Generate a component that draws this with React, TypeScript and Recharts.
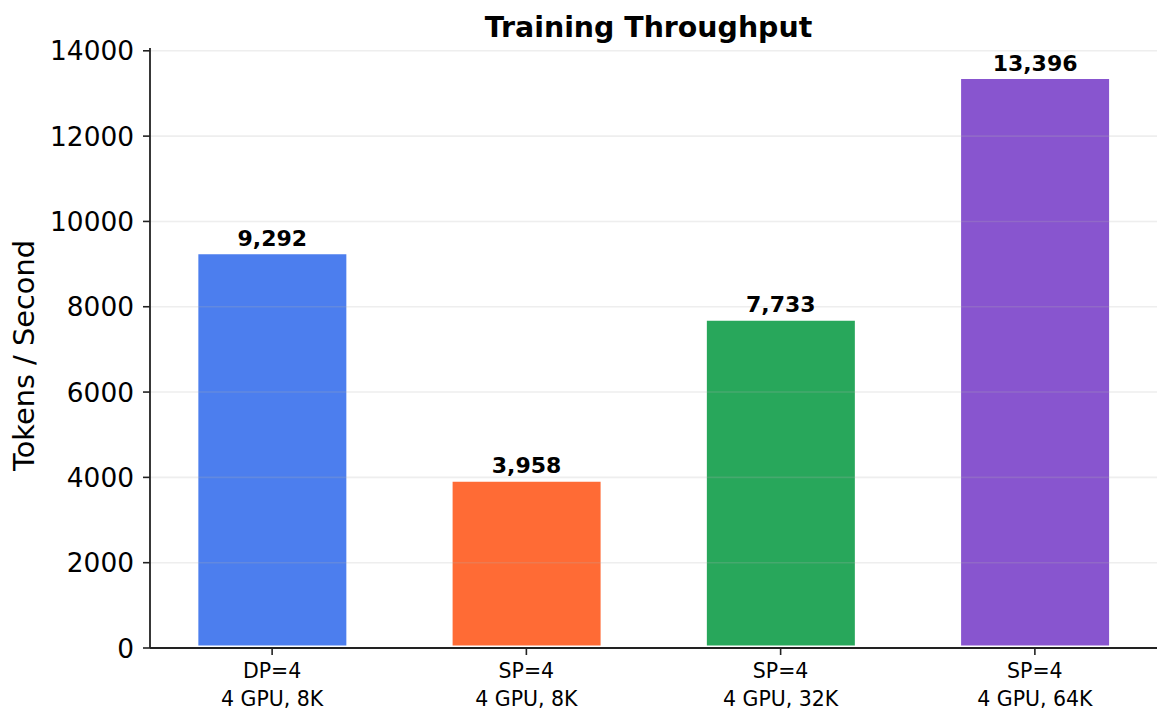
import { BarChart, Bar, XAxis, YAxis, Cell, LabelList, ReferenceLine } from 'recharts';

const parallelism = ['DP=4', 'SP=4', 'SP=4', 'SP=4'];
const setups = ['4 GPU, 8K', '4 GPU, 8K', '4 GPU, 32K', '4 GPU, 64K'];
const throughput = [9292, 3958, 7733, 13396];
const barColors = ['#4c7eee', '#ff6b35', '#28a75b', '#8855cf'];
const yTicks = [0, 2000, 4000, 6000, 8000, 10000, 12000, 14000];

const data = parallelism.map((p, i) => ({
  name: `${p}\n${setups[i]}`,
  value: throughput[i],
}));

const FONT = '"DejaVu Sans", sans-serif';
const INK = '#222';

// two-line category label under each bar
function CategoryTick({ x, y, payload }: { x: number; y: number; payload: { value: string } }) {
  const [top, bottom] = String(payload.value).split('\n');
  return (
    <text x={x} y={y} textAnchor="middle" fontFamily={FONT} fontSize={20.5} fill="#000">
      <tspan x={x} dy={14.8}>{top}</tspan>
      <tspan x={x} dy={28}>{bottom}</tspan>
    </text>
  );
}

function ValueTick({ x, y, payload }: { x: number; y: number; payload: { value: number } }) {
  return (
    <text x={x} y={y} dy={9.5} textAnchor="end" fontFamily={FONT} fontSize={26.4} fill="#000">
      {String(payload.value)}
    </text>
  );
}

export default function App() {
  return (
    <div style={{ position: 'absolute', left: 0, top: 0, width: 1171, height: 721, background: '#fff' }}>
      <BarChart
        width={1171}
        height={721}
        data={data}
        margin={{ top: 48, right: 14, left: 0, bottom: 0 }}
        barCategoryGap="20%"
      >
        <XAxis
          dataKey="name"
          height={73}
          padding={{ left: -5, right: -5 }}
          interval={0}
          tick={CategoryTick}
          tickSize={7}
          tickMargin={8}
          tickLine={{ stroke: INK, strokeWidth: 1.6 }}
          axisLine={{ stroke: INK, strokeWidth: 1.8 }}
        />
        <YAxis
          width={150}
          domain={[0, (dataMax: number) => dataMax * 1.05]}
          ticks={yTicks}
          interval={0}
          tickSize={7}
          tickMargin={9}
          tick={ValueTick}
          tickLine={{ stroke: INK, strokeWidth: 1.6 }}
          axisLine={{ stroke: INK, strokeWidth: 1.8 }}
        />
        <Bar dataKey="value" isAnimationActive={false} stroke="#fff" strokeWidth={5}>
          {data.map((d, i) => (
            <Cell key={d.name + i} fill={barColors[i]} />
          ))}
          <LabelList
            dataKey="value"
            position="top"
            offset={6}
            formatter={(v: number) => v.toLocaleString('en-US')}
            style={{ fontSize: 22, fontWeight: 'bold', fill: '#000', fontFamily: FONT }}
          />
        </Bar>
        {yTicks.slice(1).map((t) => (
          <ReferenceLine key={t} y={t} stroke="#b0b0b0" strokeOpacity={0.22} strokeWidth={1.6} />
        ))}
      </BarChart>
      <svg
        width={1171}
        height={721}
        style={{ position: 'absolute', left: 0, top: 0, pointerEvents: 'none' }}
      >
        <text x={648.5} y={37.3} textAnchor="middle" fontFamily={FONT} fontWeight="bold" fontSize={28.4} fill="#000">
          Training Throughput
        </text>
        <text
          x={34}
          y={355.5}
          transform="rotate(-90 34 355.5)"
          textAnchor="middle"
          fontFamily={FONT}
          fontSize={28.8}
          fill="#000"
        >
          Tokens / Second
        </text>
      </svg>
    </div>
  );
}
